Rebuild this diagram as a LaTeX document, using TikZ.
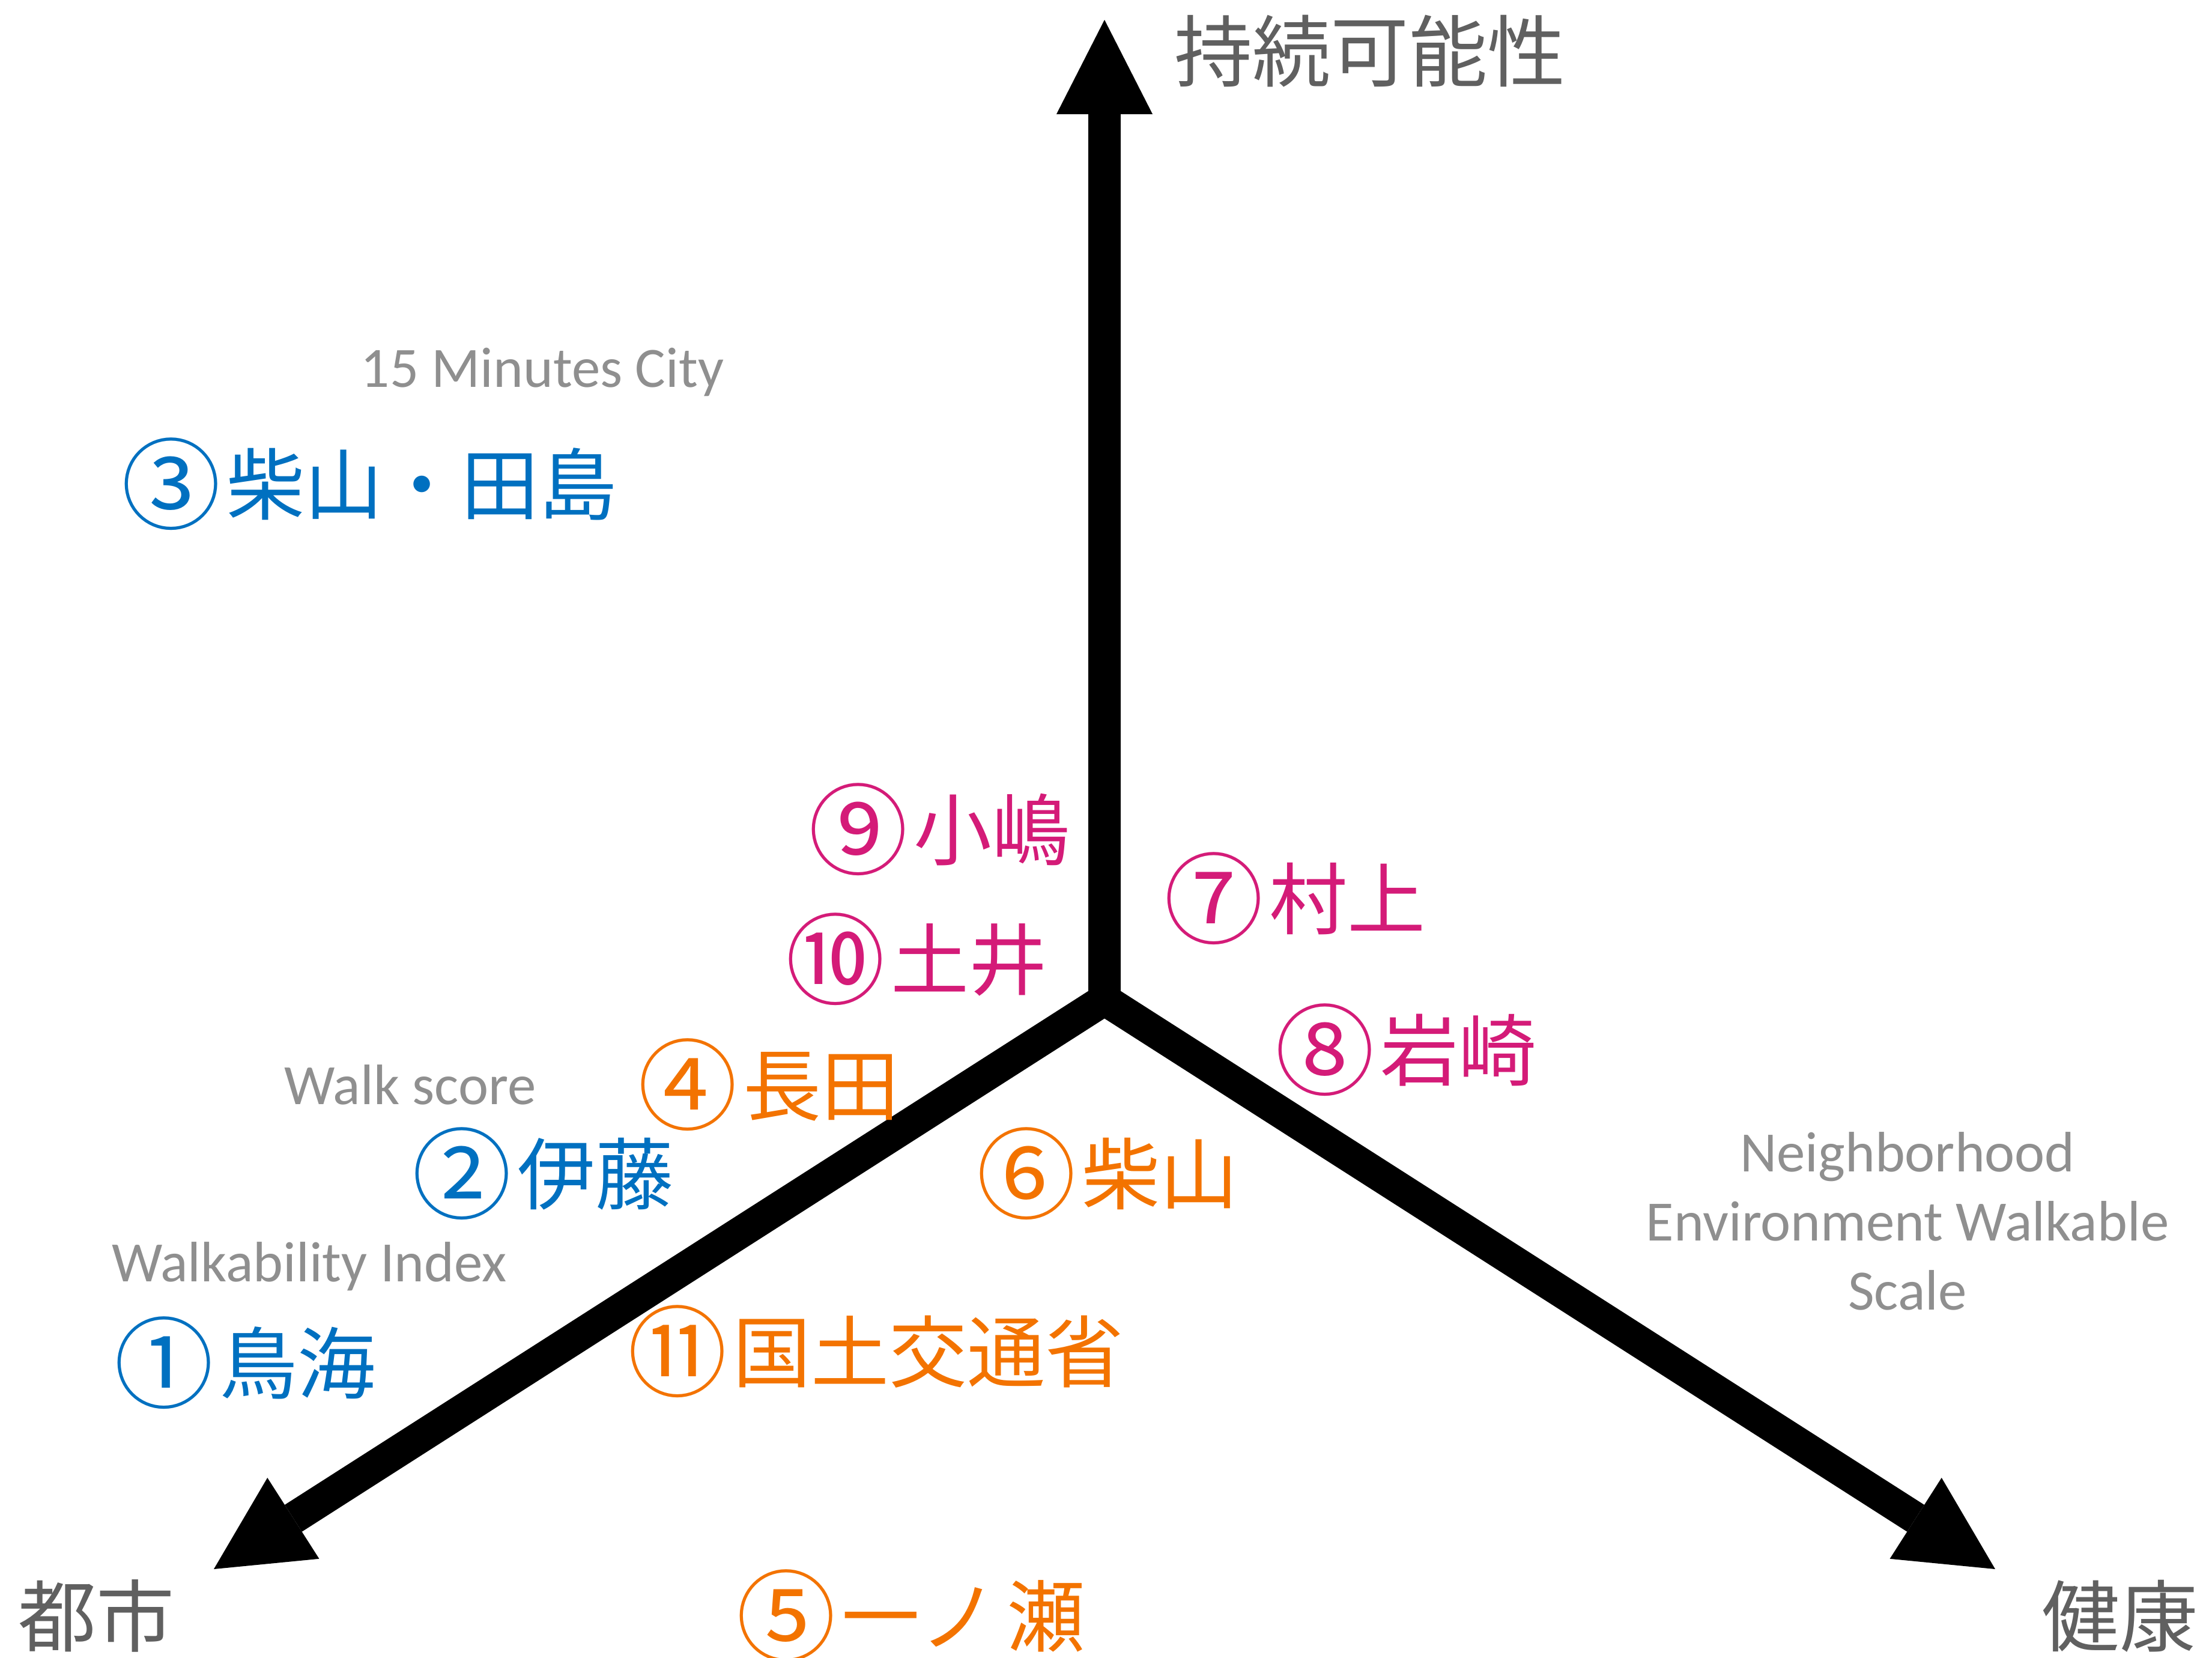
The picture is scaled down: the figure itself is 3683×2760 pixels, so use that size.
\documentclass[tikz,border=0pt]{standalone}
\usepackage{fontspec}
\usepackage{graphicx}
\newfontfamily\jpfont{Noto Sans CJK JP}
\newfontfamily\enfont{Carlito}
\usetikzlibrary{arrows.meta}
\definecolor{jblue}{HTML}{0070C0}
\definecolor{jorange}{HTML}{F37300}
\definecolor{jmag}{HTML}{D41B78}
\definecolor{engray}{HTML}{8F8F8F}
\definecolor{axgray}{HTML}{606060}
\newcommand{\circnum}[1]{\raisebox{-0.1em}{\scalebox{1.27}{#1}}\hspace{0.07em}}
\tikzset{
  axisline/.style={line width=15.1pt, line join=miter, draw=black},
  headtip/.tip={Triangle[length=1.57cm,width=1.6cm,line width=0pt]},
  axlab/.style={text=axgray, font=\jpfont\fontsize{37pt}{44pt}\selectfont, inner sep=0pt},
  enlab/.style={text=engray, font=\enfont\fontsize{27pt}{32.7pt}\selectfont, inner sep=0pt},
  jlab/.style={font=\jpfont\fontsize{37pt}{44pt}\selectfont, inner sep=0pt, anchor=west},
  jb/.style={jlab, text=jblue},
  jo/.style={jlab, text=jorange},
  jm/.style={jlab, text=jmag}
}
\begin{document}
\begin{tikzpicture}[x=0.01cm,y=-0.01cm]
\useasboundingbox (0,0) rectangle (3683,2760);
% axes
\coordinate (O) at (1839,1664);
\coordinate (T) at (1839,33);
\coordinate (L) at (356,2612);
\coordinate (R) at (3322,2612);
\draw[axisline, {headtip}-{headtip}] (L) -- (O) -- (R);
\draw[axisline, -{headtip}] (O) -- (T);
% axis labels
\node[axlab, anchor=west] (sus) at (1955,85) {持続可能性};
\node[axlab, anchor=west] (city) at (30,2690) {都市};
\node[axlab, anchor=east] (health) at (3660,2690) {健康};
% english labels
\node[enlab, anchor=base] (m15) at (903,644) {15 Minutes City};
\node[enlab, anchor=base] (ws) at (683,1838) {Walk score};
\node[enlab, anchor=base] (wi) at (515,2133) {Walkability Index};
\node[enlab, align=center, anchor=north] (news) at (3176,1884) {Neighborhood\\Environment Walkable\\Scale};
% japanese labels
\node[jb] (n1) at (190,2269) {\circnum{①}鳥海};
\node[jb] (n2) at (686,1954) {\circnum{②}伊藤};
\node[jb] (n3) at (202,806) {\circnum{③}柴山・田島};
\node[jo] (n4) at (1062,1806) {\circnum{④}長田};
\node[jo] (n5) at (1226,2690) {\circnum{⑤}一ノ\hspace{0.12em}瀬};
\node[jo] (n6) at (1626,1954) {\circnum{⑥}柴山};
\node[jm] (n7) at (1938,1496) {\circnum{⑦}村上};
\node[jm] (n8) at (2123,1748) {\circnum{⑧}岩崎};
\node[jm] (n9) at (1346,1381) {\circnum{⑨}小嶋};
\node[jm] (n10) at (1308,1597) {\circnum{⑩}土井};
\node[jo] (n11) at (1045,2250) {\circnum{⑪}国土交通省};
\end{tikzpicture}
\end{document}
